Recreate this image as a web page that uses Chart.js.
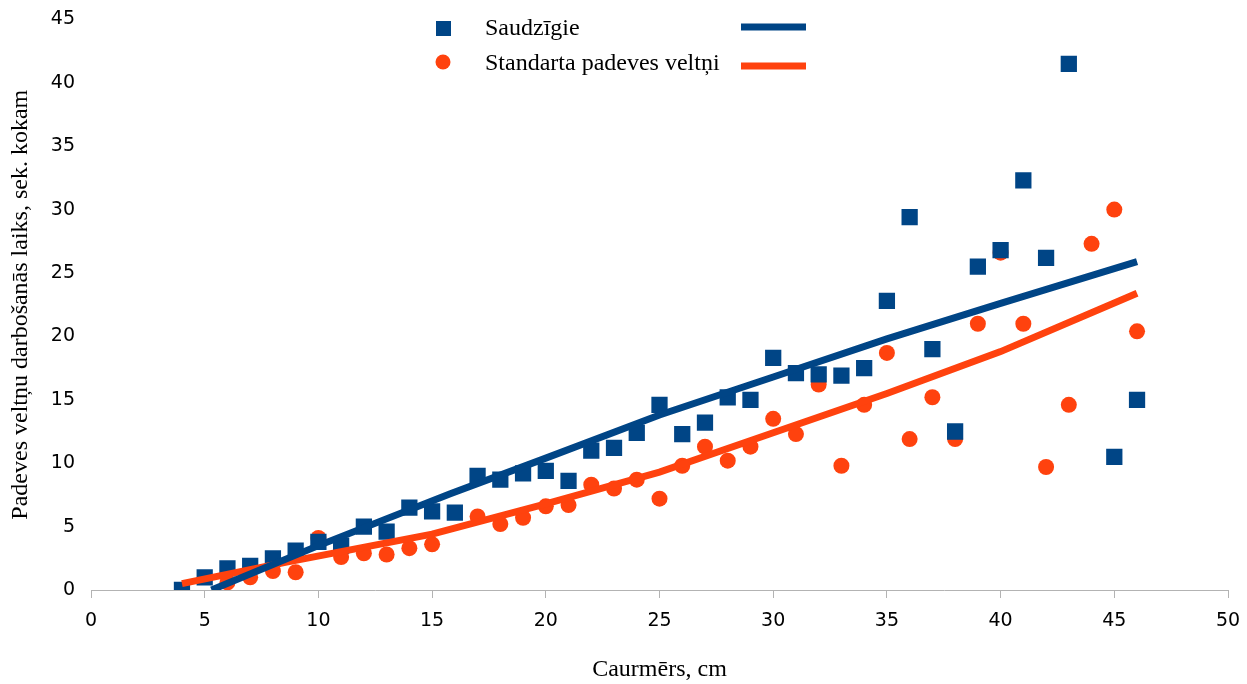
<!DOCTYPE html>
<html>
<head>
<meta charset="utf-8">
<title>Padeves veltņu darbošanās laiks</title>
<script src="https://cdn.jsdelivr.net/npm/chart.js@4.4.1/dist/chart.umd.min.js"></script>
<style>
    html, body { margin: 0; padding: 0; background: #fff; }
    #wrap { width: 1247px; height: 684px; }
</style>
</head>
<body>
<div id="wrap"><canvas id="chart" width="1247" height="684"></canvas></div>
<script>
/* global Chart */

// diameters (cm), one point per centimetre
var diam = [4, 5, 6, 7, 8, 9, 10, 11, 12, 13, 14, 15, 16, 17, 18, 19, 20, 21, 22, 23, 24, 25,
    26, 27, 28, 29, 30, 31, 32, 33, 34, 35, 36, 37, 38, 39, 40, 41, 42, 43, 44, 45, 46];

// Saudzīgie - blue squares
var saudzigie = [0, 1.0, 1.7, 1.9, 2.5, 3.1, 3.8, 3.5, 5.0, 4.6, 6.5, 6.2, 6.1, 9.0, 8.7, 9.2, 9.4, 8.6, 11.0, 11.2, 12.4, 14.6,
    12.3, 13.2, 15.2, 15.0, 18.3, 17.1, 17.0, 16.9, 17.5, 22.8, 29.4, 19.0, 12.5, 25.5, 26.8, 32.3, 26.2, 41.5, null, 10.5, 15.0];

// Standarta padeves veltņi - orange circles
var standarta = [null, null, 0.6, 1.0, 1.5, 1.4, 4.1, 2.6, 2.9, 2.8, 3.3, 3.6, null, 5.8, 5.2, 5.7, 6.6, 6.7, 8.3, 8.0, 8.7, 7.2,
    9.8, 11.3, 10.2, 11.3, 13.5, 12.3, 16.2, 9.8, 14.6, 18.7, 11.9, 15.2, 11.9, 21.0, 26.6, 21.0, 9.7, 14.6, 27.3, 30.0, 20.4];

// trend lines
var saudzFitX = [5.3, 10, 15.8, 20, 25, 30, 35, 40, 46];
var saudzFitY = [0, 3.5, 7.6, 10.4, 13.8, 16.8, 19.8, 22.6, 25.9];
var standFitX = [4, 8.6, 15, 20, 25, 30, 35, 40, 46];
var standFitY = [0.5, 2.2, 4.4, 6.8, 9.3, 12.4, 15.5, 18.8, 23.4];

var legendNames = ['Saudzīgie', 'Standarta padeves veltņi'];

var BLUE = '#004586';
var ORANGE = '#ff420e';

function toPoints(xs, ys) {
    var pts = [];
    for (var i = 0; i < xs.length; i++) {
        if (ys[i] !== null) {
            pts.push({x: xs[i], y: ys[i]});
        }
    }
    return pts;
}

// legend is drawn by hand: marker, name, then the trend line sample
var legendPlugin = {
    id: 'sideLegend',
    afterDraw: function (chart) {
        var ctx = chart.ctx;
        ctx.save();
        ctx.font = '24px "Liberation Serif"';
        ctx.textBaseline = 'middle';

        ctx.fillStyle = BLUE;
        ctx.fillRect(436, 21, 15, 15);
        ctx.beginPath();
        ctx.arc(443, 62, 7.5, 0, Math.PI * 2);
        ctx.fillStyle = ORANGE;
        ctx.fill();

        ctx.fillStyle = '#000';
        ctx.fillText(legendNames[0], 485, 29);
        ctx.fillText(legendNames[1], 485, 64);

        ctx.lineWidth = 7;
        ctx.strokeStyle = BLUE;
        ctx.beginPath();
        ctx.moveTo(741, 27);
        ctx.lineTo(806, 27);
        ctx.stroke();
        ctx.strokeStyle = ORANGE;
        ctx.beginPath();
        ctx.moveTo(741, 66);
        ctx.lineTo(806, 66);
        ctx.stroke();
        ctx.restore();
    }
};

var config = {
    type: 'scatter',
    data: {
        datasets: [{
                label: legendNames[1],
                data: toPoints(diam, standarta),
                backgroundColor: ORANGE,
                borderColor: ORANGE,
                pointStyle: 'circle',
                pointRadius: 8,
                borderWidth: 0,
                order: 4
            }, {
                label: legendNames[0],
                data: toPoints(diam, saudzigie),
                backgroundColor: BLUE,
                borderColor: BLUE,
                pointStyle: 'rect',
                pointRadius: 11.5,
                borderWidth: 0,
                order: 3
            }, {
                label: legendNames[1] + ' trend',
                data: toPoints(standFitX, standFitY),
                showLine: true,
                borderColor: ORANGE,
                borderWidth: 7,
                pointRadius: 0,
                tension: 0,
                order: 2
            }, {
                label: legendNames[0] + ' trend',
                data: toPoints(saudzFitX, saudzFitY),
                showLine: true,
                borderColor: BLUE,
                borderWidth: 7,
                pointRadius: 0,
                tension: 0,
                order: 1
            }]
    },
    options: {
        responsive: false,
        animation: false,
        layout: {
            padding: {top: 19, right: 0, bottom: 0, left: 0}
        },
        plugins: {
            legend: {display: false},
            tooltip: {enabled: false}
        },
        scales: {
            x: {
                type: 'linear',
                min: 0,
                max: 50,
                afterFit: function (scale) {
                    scale.height = 94;
                    scale.paddingRight = 19;
                },
                ticks: {
                    stepSize: 5,
                    padding: 12,
                    color: '#000',
                    font: {family: '"DejaVu Sans"', size: 19}
                },
                grid: {
                    drawOnChartArea: false,
                    drawTicks: true,
                    tickLength: 8,
                    color: '#b3b3b3'
                },
                border: {display: true, color: '#b3b3b3', width: 1},
                title: {
                    display: true,
                    text: 'Caurmērs, cm',
                    color: '#000',
                    font: {family: '"Liberation Serif"', size: 24},
                    padding: {top: 0, bottom: 0}
                }
            },
            y: {
                type: 'linear',
                min: 0,
                max: 45,
                afterFit: function (scale) {
                    scale.width = 91;
                },
                ticks: {
                    stepSize: 5,
                    padding: 8,
                    color: '#000',
                    font: {family: '"DejaVu Sans"', size: 19}
                },
                grid: {display: false},
                border: {display: false},
                title: {
                    display: true,
                    text: 'Padeves veltņu darbošanās laiks, sek. kokam',
                    color: '#000',
                    font: {family: '"Liberation Serif"', size: 24},
                    padding: {top: 6, bottom: 0}
                }
            }
        }
    },
    plugins: [legendPlugin]
};

var chart = new Chart(document.getElementById('chart'), config);
</script>
</body>
</html>
